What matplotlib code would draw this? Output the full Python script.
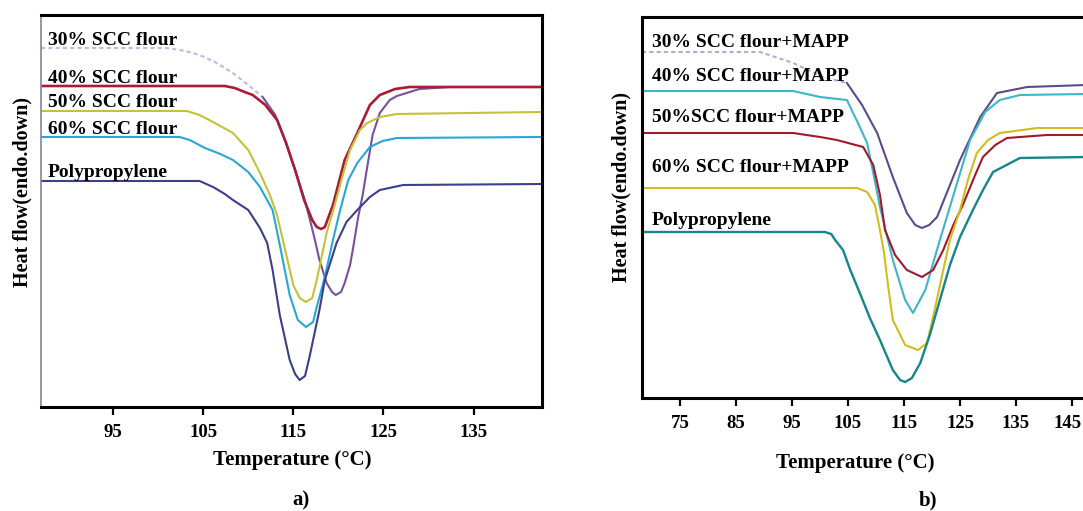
import matplotlib
matplotlib.use("Agg")
import matplotlib.pyplot as plt
import matplotlib.transforms as mtransforms

# ---------------- data: panel a (SCC flour) ----------------
a_30_T = [87.0, 101.0, 103.0, 104.6, 106.3, 108.3, 110.0, 111.6, 113.0, 114.2, 115.2, 116.2, 116.8, 117.4, 117.9,
          118.7, 119.3, 119.7, 120.3, 120.7, 121.3, 121.6, 122.2, 122.7, 123.2, 123.8, 124.6, 125.7, 126.5, 129.0, 132.4, 142.6]
a_30_hf = [35.9, 35.9, 35.6, 35.2, 34.5, 33.4, 32.2, 31.0, 29.2, 26.4, 23.7, 20.9, 18.9, 16.7, 14.7,
           12.4, 11.5, 11.2, 11.5, 12.4, 14.2, 15.7, 19.0, 21.2, 24.0, 27.2, 29.4, 30.7, 31.1, 31.8, 32.0, 32.0]

a_40_T = [87.0, 107.4, 108.5, 109.6, 110.5, 111.9, 113.2, 114.2, 115.2, 116.2, 117.1, 117.6, 118.1, 118.5, 119.4,
          120.7, 122.1, 123.5, 124.6, 126.3, 127.9, 142.6]
a_40_hf = [32.1, 32.1, 31.9, 31.5, 31.2, 30.2, 28.7, 26.4, 23.7, 20.7, 18.7, 18.0, 17.8, 18.0, 20.2,
           24.7, 27.4, 30.2, 31.2, 31.8, 32.0, 32.0]

a_50_T = [87.0, 103.2, 104.6, 106.3, 108.3, 110.0, 111.3, 112.4, 113.2, 114.1, 115.0, 115.7, 116.4, 117.1, 117.6,
          118.7, 119.6, 120.5, 121.3, 122.4, 123.2, 124.6, 126.5, 142.6]
a_50_hf = [29.6, 29.6, 29.2, 28.4, 27.4, 25.7, 23.4, 21.2, 19.2, 15.7, 12.2, 10.9, 10.5, 10.9, 12.7,
           17.4, 20.2, 23.2, 25.7, 27.7, 28.4, 29.0, 29.3, 29.5]

a_60_T = [87.0, 102.4, 103.5, 105.2, 106.9, 108.3, 110.0, 111.3, 112.7, 113.5, 114.6, 115.5, 116.4, 117.2, 117.6,
          118.5, 119.4, 120.2, 121.1, 122.1, 123.5, 124.9, 126.5, 142.6]
a_60_hf = [27.0, 27.0, 26.7, 25.9, 25.3, 24.7, 23.5, 22.0, 19.7, 16.2, 11.2, 8.7, 8.0, 8.5, 10.0,
           13.0, 16.7, 19.7, 22.7, 24.4, 26.0, 26.6, 26.9, 27.0]

a_pp_T = [87.0, 104.6, 106.1, 107.4, 108.3, 110.0, 111.3, 112.1, 112.7, 113.5, 114.6, 115.2, 115.7, 116.3, 116.8,
          117.9, 118.5, 119.8, 120.9, 122.1, 123.5, 124.6, 127.2, 142.6]
a_pp_hf = [22.6, 22.6, 22.0, 21.3, 20.7, 19.7, 17.9, 16.4, 13.7, 9.2, 4.7, 3.3, 2.7, 3.1, 5.0,
           9.7, 12.7, 16.4, 18.5, 19.7, 21.0, 21.7, 22.2, 22.3]

a_labels = ["30% SCC flour", "40% SCC flour", "50% SCC flour", "60% SCC flour", "Polypropylene"]
a_ticks = [95, 105, 115, 125, 135]

# ---------------- data: panel b (SCC flour + MAPP) ----------------
b_30_T = [68.2, 89.3, 95.2, 100.5, 104.8, 107.5, 110.2, 113.0, 115.5, 117.0, 118.2, 119.5, 120.9, 125.0, 128.6,
          131.6, 137.0, 147.5]
b_30_hf = [34.6, 34.6, 33.5, 32.1, 31.5, 29.3, 26.5, 22.1, 18.5, 17.3, 17.0, 17.3, 18.1, 23.8, 28.1,
           30.5, 31.1, 31.3]

b_40_T = [68.2, 95.2, 100.0, 104.8, 107.1, 108.4, 109.5, 110.7, 113.0, 115.2, 116.6, 118.8, 121.4, 124.1, 126.8,
          129.5, 132.1, 135.7, 147.5]
b_40_hf = [30.7, 30.7, 30.1, 29.8, 27.1, 25.5, 22.5, 19.1, 13.8, 9.8, 8.5, 10.8, 15.8, 20.8, 25.8,
           28.6, 29.8, 30.3, 30.4]

b_50_T = [68.2, 95.2, 100.0, 103.0, 107.7, 109.5, 110.7, 111.6, 113.4, 115.5, 118.2, 120.2, 122.0, 123.8, 125.5,
          127.7, 129.1, 131.3, 133.4, 140.5, 147.5]
b_50_hf = [26.5, 26.5, 26.1, 25.8, 25.1, 23.3, 20.3, 16.8, 14.3, 12.8, 12.1, 12.8, 14.8, 17.3, 19.3,
           22.3, 24.1, 25.3, 26.0, 26.3, 26.3]

b_60_T = [68.2, 106.6, 108.4, 109.8, 110.7, 111.4, 112.2, 113.0, 115.2, 117.5, 119.1, 120.2, 122.0, 123.2, 125.0,
          126.4, 128.0, 130.0, 132.1, 138.8, 147.5]
b_60_hf = [21.0, 21.0, 20.6, 19.3, 16.8, 14.6, 11.0, 7.8, 5.3, 4.8, 5.5, 8.1, 12.8, 15.8, 18.8,
           21.8, 24.5, 25.8, 26.5, 27.0, 27.0]

b_pp_T = [68.2, 100.9, 102.0, 102.7, 104.1, 105.4, 107.1, 108.9, 110.7, 113.0, 114.3, 115.2, 116.4, 117.9, 119.6,
          121.4, 123.2, 125.0, 127.3, 129.1, 130.9, 135.7, 147.5]
b_pp_hf = [16.6, 16.6, 16.4, 15.8, 14.8, 12.8, 10.5, 8.0, 5.8, 2.8, 1.8, 1.6, 2.0, 3.5, 6.3,
           9.8, 13.3, 16.1, 18.8, 20.8, 22.6, 24.0, 24.1]

b_labels = ["30% SCC flour+MAPP", "40% SCC flour+MAPP", "50%SCC flour+MAPP", "60% SCC flour+MAPP", "Polypropylene"]
b_ticks = [75, 85, 95, 105, 115, 125, 135, 145]

# ---------------- figure ----------------
W, H = 1083, 511
fig = plt.figure(figsize=(W / 100, H / 100), dpi=100)
fig.patch.set_facecolor("white")
plt.rcParams["font.family"] = ["Liberation Serif", "DejaVu Serif"]


def box(l, t, r, b):
    return [l / W, (H - b) / H, (r - l) / W, (b - t) / H]


axa = fig.add_axes(box(41, 15, 542, 407))
axb = fig.add_axes(box(642, 17, 1086, 398))

LW = 1.5
FS = 14

# panel a curves
split_a = 8
axa.plot(a_30_T[:split_a], a_30_hf[:split_a], color="#c9b3e6", lw=LW, ls=(0, (2, 1.5)))
axa.plot(a_30_T[split_a - 1:], a_30_hf[split_a - 1:], color="#7a4f9e", lw=LW)
axa.plot(a_40_T, a_40_hf, color="#a81d36", lw=LW + 0.4)
axa.plot(a_50_T, a_50_hf, color="#c4c23a", lw=LW)
axa.plot(a_60_T, a_60_hf, color="#2aa6d6", lw=LW)
axa.plot(a_pp_T, a_pp_hf, color="#3b3f8c", lw=LW)

axa.set_xlim(87.0, 142.6)
axa.set_ylim(0, 39.2)
axa.set_xticks(a_ticks)
axa.set_yticks([])
for s in ["top", "right", "bottom"]:
    axa.spines[s].set_linewidth(2.2)
    axa.spines[s].set_color("black")
axa.spines["left"].set_linewidth(1.2)
axa.spines["left"].set_color("#8a7fa0")

a_label_y = [0.936, 0.839, 0.776, 0.709, 0.597]
for txt, yy in zip(a_labels, a_label_y):
    axa.text(0.014, yy, txt, transform=axa.transAxes, fontsize=FS, fontweight="bold", va="center", ha="left")

# panel b curves
split_b = 5
axb.plot(b_30_T[:split_b], b_30_hf[:split_b], color="#b9a7dc", lw=LW, ls=(0, (2, 1.5)))
axb.plot(b_30_T[split_b - 1:], b_30_hf[split_b - 1:], color="#5b4a8e", lw=LW)
axb.plot(b_40_T, b_40_hf, color="#3cb6c8", lw=LW)
axb.plot(b_50_T, b_50_hf, color="#a3182b", lw=LW)
axb.plot(b_60_T, b_60_hf, color="#d4bc1e", lw=LW)
axb.plot(b_pp_T, b_pp_hf, color="#17858c", lw=LW + 0.2)

axb.set_xlim(68.2, 147.5)
axb.set_ylim(0, 38.1)
axb.set_xticks(b_ticks)
axb.set_yticks([])
for s in ["top", "left", "bottom"]:
    axb.spines[s].set_linewidth(2.2)
    axb.spines[s].set_color("black")
axb.spines["right"].set_visible(False)

b_label_y = [0.934, 0.845, 0.735, 0.606, 0.465]
for txt, yy in zip(b_labels, b_label_y):
    axb.text(0.0225, yy, txt, transform=axb.transAxes, fontsize=FS, fontweight="bold", va="center", ha="left")

for ax in (axa, axb):
    ax.tick_params(axis="x", direction="out", length=6, width=1.6, pad=6, labelsize=13.5)
    for lab in ax.get_xticklabels():
        lab.set_fontweight("bold")

# keep the last label of panel b inside the picture
last = axb.get_xticklabels()[-1]
last.set_transform(last.get_transform() + mtransforms.ScaledTranslation(-4 / 100, 0, fig.dpi_scale_trans))

# axis labels and panel tags
fig.text(292 / W, 1 - 460 / H, "Temperature (\u00b0C)", fontsize=15, fontweight="bold", ha="center", va="center")
fig.text(855 / W, 1 - 463 / H, "Temperature (\u00b0C)", fontsize=15, fontweight="bold", ha="center", va="center")
fig.text(22 / W, 1 - 192 / H, "Heat flow(endo.down)", fontsize=14.5, fontweight="bold", rotation=90,
         ha="center", va="center")
fig.text(621 / W, 1 - 187 / H, "Heat flow(endo.down)", fontsize=14.5, fontweight="bold", rotation=90,
         ha="center", va="center")
fig.text(301 / W, 1 - 500 / H, "a)", fontsize=15, fontweight="bold", ha="center", va="center")
fig.text(928 / W, 1 - 500 / H, "b)", fontsize=15, fontweight="bold", ha="center", va="center")

fig.savefig("out.png", dpi=100, facecolor="white")
